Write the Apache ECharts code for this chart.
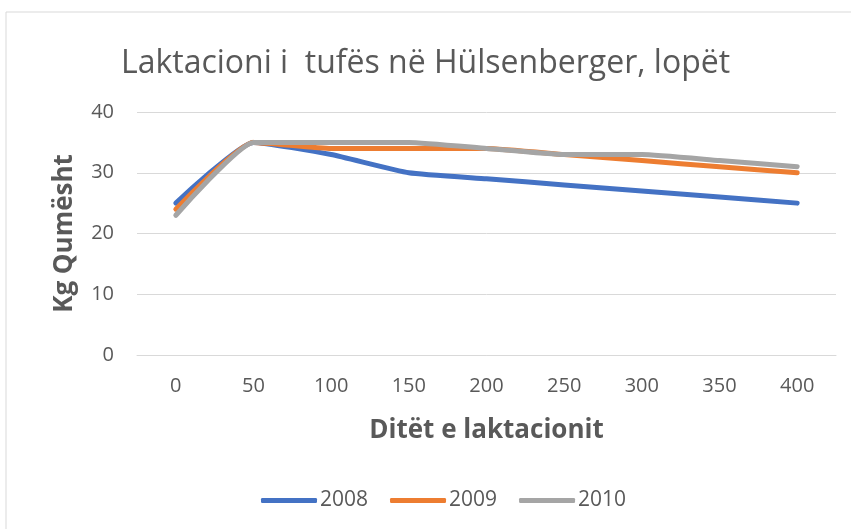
<!DOCTYPE html>
<html><head><meta charset="utf-8">
<script src="https://cdn.jsdelivr.net/npm/echarts@6/dist/echarts.min.js"></script>
<style>html,body{margin:0;padding:0;background:#fff}#c{width:851px;height:529px}</style>
</head><body><div id="c"></div>
<script>
const categories = ['0','50','100','150','200','250','300','350','400'];
const s2008 = [25,35,33,30,29,28,27,26,25];
const s2009 = [24,35,34,34,34,33,32,31,30];
const s2010 = [23,35,35,35,34,33,33,32,31];
const seriesNames = ['2008','2009','2010'];
const colors = ['#4472C4','#ED7D31','#A5A5A5'];
const font = 'Open Sans, Liberation Sans, sans-serif';
const chart = echarts.init(document.getElementById('c'));
const mk = (name, data, i) => ({
  name, type:'line', data, smooth:0.15, symbol:'none',
  lineStyle:{width:5, color:colors[i], cap:'round'}, itemStyle:{color:colors[i]}
});
chart.setOption({
  animation:false,
  graphic:[{type:'rect', shape:{x:6,y:12,width:860,height:540}, style:{fill:'none', stroke:'#D9D9D9', lineWidth:1}, silent:true}],
  title:{text:'Laktacioni i  tufës në Hülsenberger, lopët', left:'center', top:43,
    textStyle:{fontFamily:font, fontWeight:'normal', fontSize:32, color:'#595959'}},
  legend:{bottom:13, left:256, itemWidth:56, itemHeight:5, itemGap:22,
    icon:'roundRect',
    textStyle:{fontFamily:font, fontSize:21, color:'#595959', padding:[0,0,0,-2]}, data:seriesNames},
  grid:{left:137, right:15, top:112, bottom:174},
  xAxis:{type:'category', data:categories, boundaryGap:true,
    name:'Ditët e laktacionit', nameLocation:'middle', nameGap:63,
    nameTextStyle:{fontFamily:font, fontWeight:'bold', fontSize:26, color:'#595959'},
    axisLine:{show:true, lineStyle:{color:'#D9D9D9'}}, axisTick:{show:false},
    axisLabel:{fontFamily:font, fontSize:20, color:'#595959', margin:21}},
  yAxis:{type:'value', min:0, max:40, interval:10,
    name:'Kg Qumësht', nameLocation:'middle', nameGap:59,
    nameTextStyle:{fontFamily:font, fontWeight:'bold', fontSize:26, color:'#595959'},
    axisLine:{show:false}, axisTick:{show:false},
    splitLine:{lineStyle:{color:'#D9D9D9', width:1}},
    axisLabel:{fontFamily:font, fontSize:20, color:'#595959', margin:23}},
  series:[mk('2008',s2008,0), mk('2009',s2009,1), mk('2010',s2010,2)]
});
</script></body></html>
